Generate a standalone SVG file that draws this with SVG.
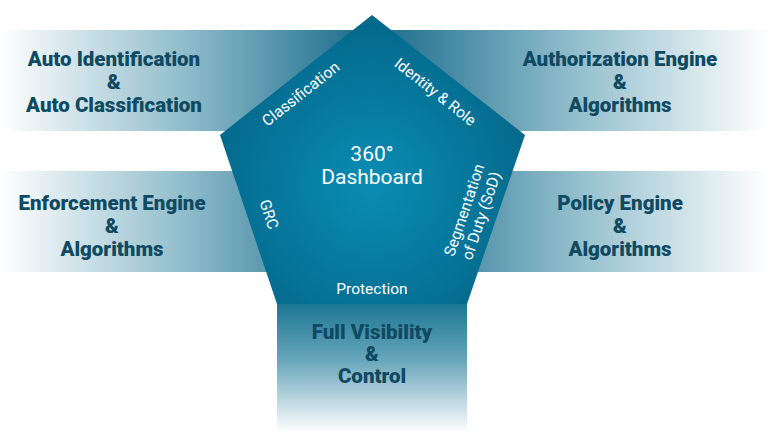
<svg xmlns="http://www.w3.org/2000/svg" width="768" height="435" viewBox="0 0 768 435">
<defs>
<linearGradient id="gl" x1="0" y1="0" x2="372" y2="0" gradientUnits="userSpaceOnUse">
<stop offset="0" stop-color="#ffffff"/>
<stop offset="0.5" stop-color="#8fbccb"/>
<stop offset="1" stop-color="#17698a"/>
</linearGradient>
<linearGradient id="gr" x1="768" y1="0" x2="372" y2="0" gradientUnits="userSpaceOnUse">
<stop offset="0" stop-color="#ffffff"/>
<stop offset="0.5" stop-color="#8fbccb"/>
<stop offset="1" stop-color="#17698a"/>
</linearGradient>
<linearGradient id="gb" x1="0" y1="304" x2="0" y2="432" gradientUnits="userSpaceOnUse">
<stop offset="0" stop-color="#1c7793"/>
<stop offset="0.45" stop-color="#6aa7bb"/>
<stop offset="1" stop-color="#ffffff"/>
</linearGradient>
<radialGradient id="gp" cx="372" cy="185" r="170" gradientUnits="userSpaceOnUse">
<stop offset="0" stop-color="#0a8db5"/>
<stop offset="1" stop-color="#036789"/>
</radialGradient>
<style>
.side{font-family:Roboto,"Liberation Sans",sans-serif;font-weight:900;font-size:20.5px;fill:#0f4a62;text-anchor:middle}
.in{font-family:Roboto,"Liberation Sans",sans-serif;font-size:15.5px;fill:#ffffff;text-anchor:middle}
.ctr{font-family:Roboto,"Liberation Sans",sans-serif;font-size:21px;fill:#ffffff;text-anchor:middle}
</style>
</defs>
<g id="bars">
<rect id="bar-top-left" x="0" y="30" width="372" height="101" fill="url(#gl)"/>
<rect id="bar-top-right" x="372" y="30" width="396" height="101" fill="url(#gr)"/>
<rect id="bar-mid-left" x="0" y="171" width="372" height="101" fill="url(#gl)"/>
<rect id="bar-mid-right" x="372" y="171" width="396" height="101" fill="url(#gr)"/>
<rect id="bar-bottom" x="277" y="304" width="190" height="131" fill="url(#gb)"/>
</g>
<g id="pentagon">
<polygon points="372,15 525,135 467,304 277,304 220,135" fill="url(#gp)"/>
<text class="ctr" x="372" y="161">360°</text>
<text class="ctr" x="372" y="184">Dashboard</text>
<text class="in" transform="translate(304,98) rotate(-38.3)">Classification</text>
<text class="in" transform="translate(432,96) rotate(38.3)">Identity &amp; Role</text>
<text class="in" transform="translate(264,216) rotate(71.4)">GRC</text>
<g transform="translate(473,213) rotate(-71.4)">
<text class="in" x="0" y="-4">Segmentation</text>
<text class="in" x="0" y="14">of Duty (SoD)</text>
</g>
<text class="in" x="372" y="294">Protection</text>
</g>
<g id="node-auto">
<text class="side" x="114" y="66">Auto Identification</text>
<text class="side" x="114" y="89">&amp;</text>
<text class="side" x="114" y="112">Auto Classification</text>
</g>
<g id="node-authorization">
<text class="side" x="620" y="66">Authorization Engine</text>
<text class="side" x="620" y="89">&amp;</text>
<text class="side" x="620" y="112">Algorithms</text>
</g>
<g id="node-enforcement">
<text class="side" x="112" y="210">Enforcement Engine</text>
<text class="side" x="112" y="233">&amp;</text>
<text class="side" x="112" y="256">Algorithms</text>
</g>
<g id="node-policy">
<text class="side" x="620" y="210">Policy Engine</text>
<text class="side" x="620" y="233">&amp;</text>
<text class="side" x="620" y="256">Algorithms</text>
</g>
<g id="node-visibility">
<text class="side" x="372" y="339">Full Visibility</text>
<text class="side" x="372" y="361">&amp;</text>
<text class="side" x="372" y="383">Control</text>
</g>
<g id="connectors"/>
</svg>
